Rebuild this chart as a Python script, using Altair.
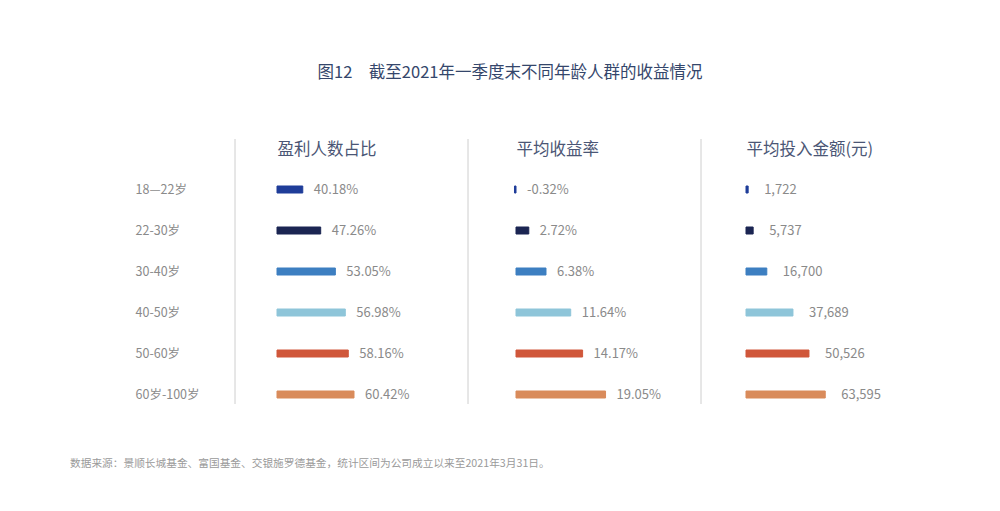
import altair as alt
import pandas as pd

FONT = "Noto Sans CJK SC"

ages = ["18—22岁", "22-30岁", "30-40岁", "40-50岁", "50-60岁", "60岁-100岁"]
profit_ratio = [40.18, 47.26, 53.05, 56.98, 58.16, 60.42]
avg_return = [-0.32, 2.72, 6.38, 11.64, 14.17, 19.05]
avg_invest = [1722, 5737, 16700, 37689, 50526, 63595]
bar_colors = ["#1f3d99", "#1b2552", "#3d7fc1", "#8ec5d9", "#d0573a", "#d98b5b"]
headers = ["盈利人数占比", "平均收益率", "平均投入金额(元)"]
title_text = "图12　截至2021年一季度末不同年龄人群的收益情况"
source_text = "数据来源：景顺长城基金、富国基金、交银施罗德基金，统计区间为公司成立以来至2021年3月31日。"

df = pd.DataFrame({"age": ages, "p": profit_ratio, "r": avg_return, "i": avg_invest, "c": bar_colors})
df["p_label"] = [f"{v:.2f}%" for v in profit_ratio]
df["r_label"] = [f"{v:.2f}%" for v in avg_return]
df["i_label"] = [f"{v:,}" for v in avg_invest]
df["p_at"] = df["p"]
df["r_at"] = df["r"].clip(lower=0)
df["i_at"] = df["i"]

W, H = 233, 246


def panel(field, at_field, label_field, header, domain, rng, base, dx, first):
    xaxis = alt.Axis(orient="top", title=header, labels=False, ticks=False, domain=False,
                     grid=False, titleX=rng[0], titleAlign="left", titlePadding=12,
                     titleFontSize=16.5, titleColor="#4b5675", titleFontWeight="normal",
                     titleFont=FONT)
    scale = alt.Scale(domain=domain, range=rng)
    if first:
        yaxis = alt.Axis(title=None, orient="left", labelAlign="left", labelPadding=100,
                         ticks=False, domain=False, grid=False, labelFontSize=12.5,
                         labelColor="#8a8a8a", labelFont=FONT)
    else:
        yaxis = None
    y_enc = alt.Y("age:N", sort=ages, scale=alt.Scale(paddingInner=0, paddingOuter=0), axis=yaxis)
    bars = alt.Chart(df).mark_bar(height=7, strokeWidth=1).encode(
        x=alt.X(f"{field}:Q", scale=scale, axis=xaxis),
        x2=alt.datum(base),
        y=y_enc,
        color=alt.Color("c:N", scale=None),
        stroke=alt.Stroke("c:N", scale=None),
    )
    labels = alt.Chart(df).mark_text(align="left", dx=dx, fontSize=13, color="#8a8a8a",
                                     font=FONT).encode(
        x=alt.X(f"{at_field}:Q", scale=scale, axis=xaxis),
        y=y_enc,
        text=f"{label_field}:N",
    )
    rule = alt.Chart(df).mark_rule(color="#e6e6e6", strokeWidth=1).encode(
        x=alt.value(0), y=alt.value(-30), y2=alt.value(235)
    )
    ch = alt.layer(rule, bars, labels).properties(width=W, height=H)
    if first:
        ch = ch.properties(title=alt.TitleParams(
            text=source_text, orient="bottom", anchor="start", frame="group", dx=-165,
            offset=44, fontSize=10.7, color="#9a9a9a", fontWeight="normal", font=FONT))
    return ch


p1 = panel("p", "p_at", "p_label", headers[0], [30, 62], [42, 123], 30, 11, True)
p2 = panel("r", "r_at", "r_label", headers[1], [0, 20], [48, 142], 0, 11, False)
p3 = panel("i", "i_at", "i_label", headers[2], [0, 65000], [45, 126], 0, 16, False)

chart = alt.hconcat(p1, p2, p3, spacing=0, bounds="flush").properties(
    title=alt.TitleParams(text=title_text, fontSize=16.5, color="#34466b", anchor="middle",
                          frame="bounds", offset=57, dx=8, fontWeight="normal", font=FONT),
    padding={"left": 62, "top": 57, "right": 5, "bottom": 5},
).configure_view(stroke=None).configure(background="white")
chart = chart.configure_view(stroke=None)

chart.save("out.html", embed_options={"renderer": "svg", "actions": False})
